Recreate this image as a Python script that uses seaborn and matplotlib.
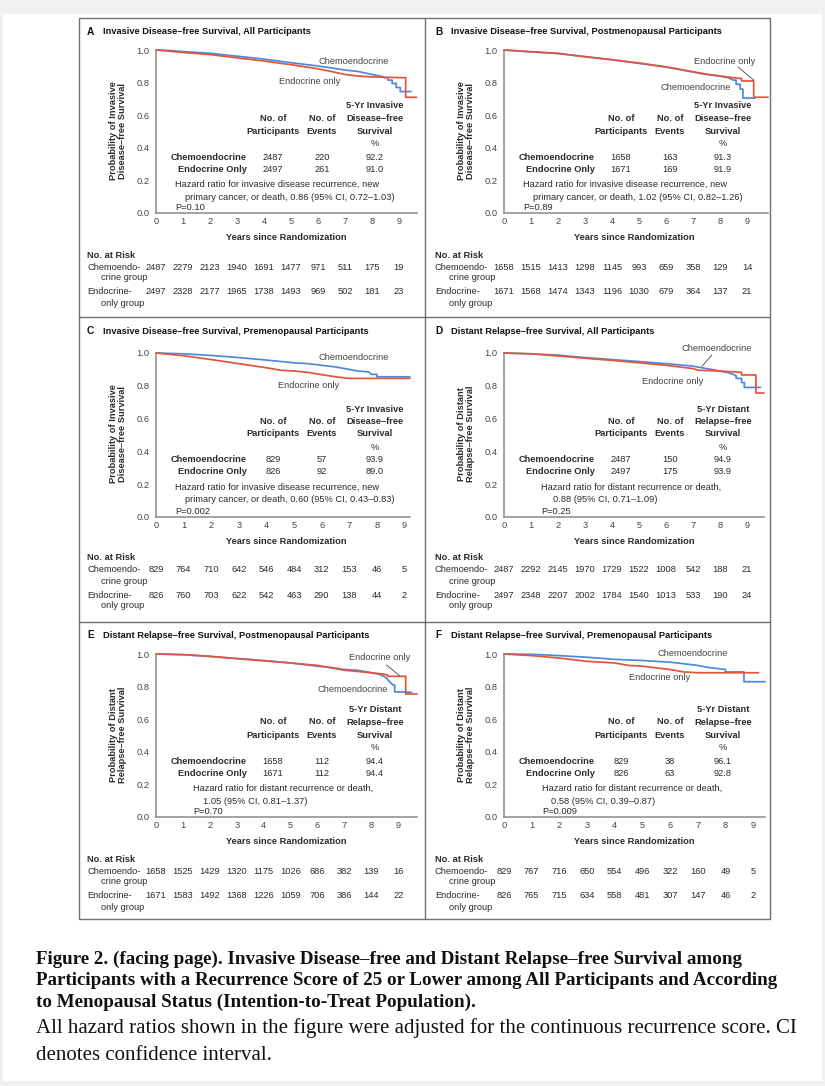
#!/usr/bin/env python

import matplotlib as mpl
mpl.use('agg')
import matplotlib.pyplot as plt
from matplotlib import font_manager
from matplotlib.lines import Line2D
from matplotlib.patches import Rectangle
from matplotlib.transforms import blended_transform_factory
import pandas as pd
import seaborn as sns

W, H = 825, 1086

# ---- data -------------------------------------------------------------
years = list(range(10))
arms = ["Chemoendocrine", "Endocrine only"]
arm_colors = ["#4d8ad9", "#e3553b"]

letters = ["A", "B", "C", "D", "E", "F"]
titles = ["Invasive Disease\u2013free Survival, All Participants",
          "Invasive Disease\u2013free Survival, Postmenopausal Participants",
          "Invasive Disease\u2013free Survival, Premenopausal Participants",
          "Distant Relapse\u2013free Survival, All Participants",
          "Distant Relapse\u2013free Survival, Postmenopausal Participants",
          "Distant Relapse\u2013free Survival, Premenopausal Participants"]
ylabels = ["Probability of Invasive\nDisease\u2013free Survival"] * 3 + \
          ["Probability of Distant\nRelapse\u2013free Survival"] * 3
surv_headers = [["5-Yr Invasive", "Disease\u2013free", "Survival"]] * 3 + \
               [["5-Yr Distant", "Relapse\u2013free", "Survival"]] * 3

n_participants = [(2487, 2497), (1658, 1671), (829, 826), (2487, 2497), (1658, 1671), (829, 826)]
n_events = [(220, 261), (163, 169), (57, 92), (150, 175), (112, 112), (38, 63)]
surv_5yr = [("92.2", "91.0"), ("91.3", "91.9"), ("93.9", "89.0"),
            ("94.9", "93.9"), ("94.4", "94.4"), ("96.1", "92.8")]

hr_lines = [
    ["Hazard ratio for invasive disease recurrence, new",
     "primary cancer, or death, 0.86 (95% CI, 0.72\u20131.03)", "P=0.10"],
    ["Hazard ratio for invasive disease recurrence, new",
     "primary cancer, or death, 1.02 (95% CI, 0.82\u20131.26)", "P=0.89"],
    ["Hazard ratio for invasive disease recurrence, new",
     "primary cancer, or death, 0.60 (95% CI, 0.43\u20130.83)", "P=0.002"],
    ["Hazard ratio for distant recurrence or death,",
     "0.88 (95% CI, 0.71\u20131.09)", "P=0.25"],
    ["Hazard ratio for distant recurrence or death,",
     "1.05 (95% CI, 0.81\u20131.37)", "P=0.70"],
    ["Hazard ratio for distant recurrence or death,",
     "0.58 (95% CI, 0.39\u20130.87)", "P=0.009"],
]

risk_chemo = [
    [2487, 2279, 2123, 1940, 1691, 1477, 971, 511, 175, 19],
    [1658, 1515, 1413, 1298, 1145, 993, 659, 358, 129, 14],
    [829, 764, 710, 642, 546, 484, 312, 153, 46, 5],
    [2487, 2292, 2145, 1970, 1729, 1522, 1008, 542, 188, 21],
    [1658, 1525, 1429, 1320, 1175, 1026, 686, 382, 139, 16],
    [829, 767, 716, 650, 554, 496, 322, 160, 49, 5],
]
risk_endo = [
    [2497, 2328, 2177, 1965, 1738, 1493, 969, 502, 181, 23],
    [1671, 1568, 1474, 1343, 1196, 1030, 679, 364, 137, 21],
    [826, 760, 703, 622, 542, 463, 290, 138, 44, 2],
    [2497, 2348, 2207, 2002, 1784, 1540, 1013, 533, 190, 24],
    [1671, 1583, 1492, 1368, 1226, 1059, 706, 386, 144, 22],
    [826, 765, 715, 634, 558, 481, 307, 147, 46, 2],
]

# Kaplan-Meier curves: (years, survival)
km_A_chemo = [(0, 1.0), (0.5, 0.997), (1, 0.99), (2, 0.98), (3, 0.962), (4, 0.944), (5, 0.922),
              (6, 0.902), (6.5, 0.89), (7, 0.877), (7.5, 0.868), (8, 0.85), (8.3, 0.84), (8.5, 0.83),
              (8.6, 0.83), (8.6, 0.815), (8.75, 0.815), (8.75, 0.795), (8.9, 0.795), (8.9, 0.77),
              (9.05, 0.77), (9.05, 0.745), (9.45, 0.745)]
km_A_endo = [(0, 1.0), (1, 0.985), (2, 0.972), (3, 0.952), (4, 0.932), (5, 0.91), (6, 0.885),
             (6.5, 0.868), (7, 0.85), (7.5, 0.84), (8, 0.835), (8.7, 0.832), (9.25, 0.83),
             (9.25, 0.71), (9.65, 0.71)]
km_B_chemo = [(0, 1.0), (1, 0.988), (2, 0.978), (3, 0.96), (4, 0.94), (5, 0.918), (6, 0.895),
              (6.5, 0.88), (7, 0.865), (7.5, 0.85), (8, 0.84), (8.3, 0.83), (8.5, 0.815),
              (8.6, 0.815), (8.6, 0.79), (8.75, 0.79), (8.75, 0.76), (8.85, 0.76), (8.85, 0.705),
              (9.3, 0.705)]
km_B_endo = [(0, 1.0), (1, 0.99), (2, 0.98), (3, 0.958), (4, 0.94), (5, 0.92), (6, 0.897),
             (6.5, 0.882), (7, 0.866), (7.5, 0.852), (8, 0.84), (8.5, 0.83), (8.8, 0.825),
             (8.8, 0.81), (9.25, 0.81), (9.25, 0.71), (9.78, 0.71)]
km_C_chemo = [(0, 1.0), (1, 0.995), (2, 0.985), (3, 0.972), (4, 0.957), (5, 0.94), (5.5, 0.935),
              (6, 0.925), (6.5, 0.915), (7, 0.9), (7.3, 0.89), (7.7, 0.885), (7.8, 0.87),
              (8, 0.87), (8, 0.855), (9.2, 0.855)]
km_C_endo = [(0, 1.0), (1, 0.983), (2, 0.96), (3, 0.935), (4, 0.91), (4.5, 0.895), (5, 0.89),
             (5.5, 0.882), (6, 0.868), (6.5, 0.855), (7, 0.845), (8, 0.845), (9.2, 0.845)]
km_D_chemo = [(0, 1.0), (1, 0.995), (2, 0.987), (3, 0.972), (4, 0.96), (5, 0.948), (6, 0.935),
              (7, 0.92), (7.5, 0.905), (8, 0.89), (8.3, 0.88), (8.5, 0.87), (8.6, 0.86),
              (8.6, 0.845), (8.8, 0.845), (8.8, 0.82), (8.9, 0.82), (8.9, 0.79), (9.5, 0.79)]
km_D_endo = [(0, 1.0), (1, 0.995), (2, 0.982), (3, 0.968), (4, 0.955), (5, 0.94), (6, 0.925),
             (7, 0.905), (7.2, 0.895), (8, 0.89), (8.5, 0.885), (8.8, 0.882), (8.8, 0.866),
             (9.33, 0.866), (9.33, 0.756), (9.63, 0.756)]
km_E_chemo = [(0, 1.0), (1, 0.996), (2, 0.985), (3, 0.972), (4, 0.96), (5, 0.945), (6, 0.925),
              (6.5, 0.918), (7, 0.905), (7.5, 0.9), (8, 0.885), (8.3, 0.875), (8.5, 0.86),
              (8.6, 0.845), (8.8, 0.81), (8.87, 0.81), (8.87, 0.768), (9.5, 0.765)]
km_E_endo = [(0, 1.0), (1, 0.996), (2, 0.986), (3, 0.972), (4, 0.958), (5, 0.945), (6, 0.93),
             (7, 0.9), (7.5, 0.893), (8, 0.885), (8.4, 0.878), (8.6, 0.872), (8.6, 0.863),
             (9.28, 0.863), (9.28, 0.755), (9.7, 0.755)]
km_F_chemo = [(0, 1.0), (1, 0.998), (2, 0.99), (3, 0.98), (4, 0.967), (5, 0.96), (6, 0.95),
              (6.5, 0.94), (7, 0.93), (7.3, 0.92), (7.5, 0.915), (8, 0.905), (8, 0.89),
              (8.67, 0.89), (8.67, 0.83), (9.43, 0.83)]
km_F_endo = [(0, 1.0), (1, 0.99), (2, 0.975), (3, 0.955), (4, 0.945), (4.5, 0.93), (5, 0.925),
             (5.5, 0.915), (6, 0.905), (6.5, 0.89), (7, 0.885), (8, 0.885), (9.2, 0.885)]

km_chemo = [km_A_chemo, km_B_chemo, km_C_chemo, km_D_chemo, km_E_chemo, km_F_chemo]
km_endo = [km_A_endo, km_B_endo, km_C_endo, km_D_endo, km_E_endo, km_F_endo]

caption_bold = ["Figure 2. (facing page). Invasive Disease\u2013free and Distant Relapse\u2013free Survival among",
                "Participants with a Recurrence Score of 25 or Lower among All Participants and According",
                "to Menopausal Status (Intention-to-Treat Population)."]
caption_text = ["All hazard ratios shown in the figure were adjusted for the continuous recurrence score. CI",
                "denotes confidence interval."]

# ---- layout (pixels) --------------------------------------------------
# axes: left, y of 1.0, y of 0.0, right end, x max
axes_px = [(156, 50, 213, 417, 9.67), (504, 50, 213, 768, 9.78),
           (156, 353, 517, 410, 9.2), (504, 353, 517, 764, 9.63),
           (156, 654, 817, 417, 9.7), (504, 654, 817, 765, 9.43)]
row_dy = [0, 303, 604]
col_dx = [0, 348]
title_y = [32, 331, 635]
hr_x = [(175, 185), (523, 533), (175, 185), (541, 553), (193, 203), (542, 551)]
# curve label centres (chemo, endo) and optional leader lines in data coords
label_px = [((354, 61), (310, 81)), ((696, 88), (725, 62)),
            ((354, 358), (309, 386)), ((717, 348), (673, 381)),
            ((353, 689), (380, 657)), ((693, 653), (660, 678))]
leaders = {1: ((8.67, 0.896), (9.25, 0.815)),
           3: ((7.7, 0.988), (7.33, 0.918)),
           4: ((8.57, 0.933), (9.05, 0.866))}

GRAY = "#8a8a8a"
TXT = "#2b2b2b"


def pick_font(name, fallback):
    try:
        font_manager.findfont(font_manager.FontProperties(family=name), fallback_to_default=False)
        return name, True
    except Exception:
        return fallback, False


def put(fig, x, y, s, **kw):
    kw.setdefault("va", "center")
    kw.setdefault("color", TXT)
    return fig.text(x / W, 1 - y / H, s, **kw)


def draw_panel(fig, i, fs):
    row, col = i // 2, i % 2
    dx, dy = col_dx[col], row_dy[row]
    left, top, bottom, right, xmax = axes_px[i]
    ax = fig.add_axes([left / W, 1 - bottom / H, (right - left) / W, (bottom - top) / H])
    ax.patch.set_alpha(0)

    df = pd.concat([pd.DataFrame(km_chemo[i], columns=["t", "s"]).assign(arm=arms[0]),
                    pd.DataFrame(km_endo[i], columns=["t", "s"]).assign(arm=arms[1])])
    sns.lineplot(data=df, x="t", y="s", hue="arm", hue_order=arms,
                 palette=dict(zip(arms, arm_colors)), estimator=None, sort=False,
                 legend=False, ax=ax, lw=1.25, clip_on=False)

    ax.set_xlim(0, xmax)
    ax.set_ylim(0, 1)
    ax.set_xticks(years)
    ax.set_yticks([0, 0.2, 0.4, 0.6, 0.8, 1.0])
    ax.set_yticklabels(["0.0", "0.2", "0.4", "0.6", "0.8", "1.0"])
    ax.set_xlabel("")
    ax.set_ylabel("")
    for s in ["top", "right"]:
        ax.spines[s].set_visible(False)
    for s in ["left", "bottom"]:
        ax.spines[s].set_color(GRAY)
        ax.spines[s].set_linewidth(1.1)
    ax.tick_params(axis="y", direction="out", length=3.5, width=0.8, color=GRAY,
                   pad=1, labelsize=fs, labelcolor="#444444")
    ax.tick_params(axis="x", direction="in", length=3, width=0.8, color=GRAY,
                   pad=3, labelsize=fs, labelcolor="#444444")

    # curve labels
    for (lx, ly), name in zip(label_px[i], ["Chemoendocrine", "Endocrine only"]):
        put(fig, lx, ly, name, ha="center", fontsize=fs, color="#444444")
    if i in leaders:
        p0, p1 = leaders[i]
        ax.annotate("", xy=p1, xytext=p0, annotation_clip=False,
                    arrowprops=dict(arrowstyle="-", color="#444444", lw=0.6,
                                    shrinkA=0, shrinkB=0))

    # title and axis labels
    put(fig, 87 + dx, title_y[row], letters[i], fontsize=fs + 0.6, fontweight="bold", color="#111111")
    put(fig, 103 + dx, title_y[row], titles[i], fontsize=fs, fontweight="bold", color="#111111")
    put(fig, 118 + dx, 131 + dy, ylabels[i], rotation=90, ha="center", fontsize=fs,
        fontweight="bold", linespacing=1.05)
    put(fig, 286 + dx, 238 + dy, "Years since Randomization", ha="center", fontsize=fs,
        fontweight="bold")

    # summary table
    cx = [273 + dx, 322 + dx, 375 + dx]
    for k, line in enumerate(["No. of", "Participants"]):
        put(fig, cx[0], 118 + 13 * k + dy, line, ha="center", fontsize=fs, fontweight="bold")
    for k, line in enumerate(["No. of", "Events"]):
        put(fig, cx[1], 118 + 13 * k + dy, line, ha="center", fontsize=fs, fontweight="bold")
    for k, line in enumerate(surv_headers[i]):
        put(fig, cx[2], 106 + 12.5 * k + dy, line, ha="center", fontsize=fs, fontweight="bold")
    put(fig, cx[2], 144 + dy, "%", ha="center", fontsize=fs)
    for k, (name, y) in enumerate([("Chemoendocrine", 157), ("Endocrine Only", 169)]):
        put(fig, 247 + dx, y + dy, name, ha="right", fontsize=fs, fontweight="bold")
        put(fig, cx[0], y + dy, str(n_participants[i][k]), ha="center", fontsize=fs)
        put(fig, cx[1], y + dy, str(n_events[i][k]), ha="center", fontsize=fs)
        put(fig, cx[2], y + dy, surv_5yr[i][k], ha="center", fontsize=fs)

    # hazard ratio
    x1, x2 = hr_x[i]
    put(fig, x1, 184 + dy, hr_lines[i][0], fontsize=fs)
    put(fig, x2, 197 + dy, hr_lines[i][1], fontsize=fs)
    put(fig, x1, 208 + dy, hr_lines[i][2], fontsize=fs)

    # number at risk
    put(fig, 87 + dx, 255 + dy, "No. at Risk", fontsize=fs, fontweight="bold")
    put(fig, 87 + dx, 267 + dy, "Chemoendo-", fontsize=fs)
    put(fig, 101 + dx, 278 + dy, "crine group", fontsize=fs)
    put(fig, 87 + dx, 292 + dy, "Endocrine-", fontsize=fs)
    put(fig, 101 + dx, 303 + dy, "only group", fontsize=fs)
    trans = blended_transform_factory(ax.transData, fig.transFigure)
    for yr, a, b in zip(years, risk_chemo[i], risk_endo[i]):
        ax.text(yr, 1 - (267 + dy) / H, str(a), transform=trans, ha="center", va="center",
                fontsize=fs, color=TXT, clip_on=False)
        ax.text(yr, 1 - (292 + dy) / H, str(b), transform=trans, ha="center", va="center",
                fontsize=fs, color=TXT, clip_on=False)


def main():
    sns.set_theme(style="white")
    panel_font, narrow = pick_font("Liberation Sans Narrow", "Liberation Sans")
    plt.rcParams["font.family"] = [panel_font, "DejaVu Sans"]
    fs = 8.0 if narrow else 6.7

    fig = plt.figure(figsize=(W / 100, H / 100), dpi=100, facecolor="#f1f1f1")
    fig.add_artist(Rectangle((3 / W, 1 - 1081 / H), 819 / W, 1067 / H, transform=fig.transFigure,
                             facecolor="white", edgecolor="none", zorder=0))

    # frame and dividers
    fc = "#707070"
    fig.add_artist(Rectangle((79 / W, 1 - 919 / H), 691 / W, 901 / H, transform=fig.transFigure,
                             facecolor="none", edgecolor=fc, lw=1.0))
    fig.add_artist(Line2D([425 / W, 425 / W], [1 - 18 / H, 1 - 919 / H], color=fc, lw=1.0))
    for y in [317, 622]:
        fig.add_artist(Line2D([79 / W, 770 / W], [1 - y / H, 1 - y / H], color=fc, lw=1.0))

    for i in range(6):
        draw_panel(fig, i, fs)

    # caption
    for k, line in enumerate(caption_bold):
        put(fig, 36, 959 + 21.5 * k, line, fontsize=13.7, fontweight="bold", color="#111111",
            family="Liberation Serif")
    for k, line in enumerate(caption_text):
        put(fig, 36, 1028 + 28 * k, line, fontsize=15, color="#111111", family="Liberation Serif")

    fig.savefig("out.png", dpi=100, facecolor=fig.get_facecolor())
    plt.close(fig)


if __name__ == '__main__':
    main()
